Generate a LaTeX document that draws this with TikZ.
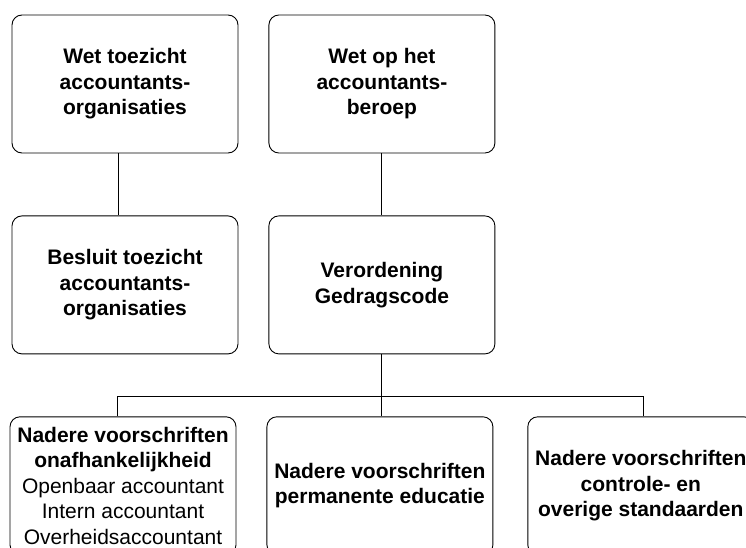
\documentclass[tikz,border=0pt]{standalone}
\usepackage{fontspec}
\setmainfont{Liberation Sans}
\usetikzlibrary{positioning}
\tikzset{box/.style={draw, rounded corners=10pt, line width=0.9pt, minimum width=226pt, minimum height=138pt, inner sep=2pt, align=center, font=\fontsize{21}{25.5}\selectfont\bfseries}}
\tikzset{link/.style={line width=0.9pt}}

\begin{document}
\begin{tikzpicture}[x=1pt, y=-1pt, node distance=62pt and 30pt]
\clip (0,0) rectangle (746,548);
\useasboundingbox (0,0) rectangle (746,548);
\node[box] (wta) at (125,84) {Wet toezicht\\accountants-\\organisaties};
\node[box, right=of wta] (wab) {Wet op het\\accountants-\\beroep};
\node[box, below=of wta] (bta) {Besluit toezicht\\accountants-\\organisaties};
\node[box, below=of wab] (vgc) {Verordening\\Gedragscode};
\node[box, below=of bta, xshift=-2pt, font=\fontsize{21}{25.5}\selectfont] (nvo) {\textbf{Nadere voorschriften}\\\textbf{onafhankelijkheid}\\Openbaar accountant\\Intern accountant\\Overheidsaccountant};
\node[box, right=30pt of nvo] (nvp) {Nadere voorschriften\\permanente educatie};
\node[box, right=34pt of nvp] (nvc) {Nadere voorschriften\\controle- en\\overige standaarden};
\coordinate[below=42pt of vgc.south] (bus);
\draw[link] ([xshift=-7pt]wta.south) -- ([xshift=-7pt]wta.south |- bta.north);
\draw[link] (wab.south) -- (vgc.north);
\draw[link] (vgc.south) -- (vgc.south |- nvp.north);
\draw[link] ([xshift=-6pt]nvo.north) |- (bus) -| ([xshift=3pt]nvc.north);
\end{tikzpicture}
\end{document}
